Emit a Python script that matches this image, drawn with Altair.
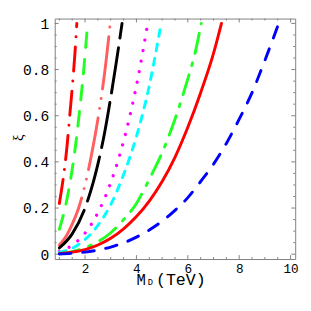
import altair as alt
import pandas as pd

# ---- curve data (M_D in TeV, xi) ----
M_a = [1.0, 1.1, 1.2, 1.3, 1.4, 1.5, 1.6, 1.68]
xi_a = [0.22, 0.29, 0.37, 0.47, 0.595, 0.72, 0.86, 1.0]

M_b = [1.0, 1.2, 1.4, 1.6, 1.8, 1.95, 2.1]
xi_b = [0.108, 0.19, 0.30, 0.445, 0.635, 0.80, 1.0]

M_c = [1.0, 1.25, 1.5, 1.75, 2.0, 2.25, 2.5, 2.75, 2.98]
xi_c = [0.04, 0.075, 0.13, 0.20, 0.30, 0.43, 0.585, 0.775, 1.0]

M_d = [1.0, 1.5, 2.0, 2.5, 2.75, 3.0, 3.2, 3.44]
xi_d = [0.027, 0.088, 0.20, 0.39, 0.52, 0.68, 0.82, 1.0]

M_e = [1.0, 1.5, 2.0, 2.5, 3.0, 3.5, 4.0, 4.44]
xi_e = [0.0115, 0.039, 0.091, 0.18, 0.31, 0.49, 0.73, 1.0]

M_f = [1.0, 1.5, 2.0, 2.5, 3.0, 3.5, 4.0, 4.5, 4.96]
xi_f = [0.008, 0.026, 0.064, 0.125, 0.215, 0.345, 0.51, 0.73, 1.0]

M_g = [1.0, 1.5, 2.0, 2.5, 3.0, 3.5, 4.0, 4.5, 5.0, 5.5, 6.0, 6.3, 6.52]
xi_g = [0.003, 0.011, 0.028, 0.054, 0.093, 0.15, 0.22, 0.325, 0.44, 0.585, 0.76, 0.88, 1.0]

M_h = [1.0, 1.5, 2.0, 2.5, 3.0, 3.5, 4.0, 4.5, 5.0, 5.5, 6.0, 6.5, 7.0, 7.31]
xi_h = [0.0026, 0.009, 0.02, 0.04, 0.069, 0.11, 0.163, 0.23, 0.315, 0.42, 0.55, 0.70, 0.87, 1.0]

M_i = [1.0, 1.5, 2.0, 2.5, 3.0, 3.5, 4.0, 4.5, 5.0, 5.5, 6.0, 6.5, 7.0, 7.5, 8.0, 8.5, 9.0, 9.54]
xi_i = [0.001, 0.004, 0.009, 0.018, 0.031, 0.049, 0.074, 0.105, 0.143, 0.19, 0.245, 0.315, 0.39, 0.48, 0.585, 0.70, 0.84, 1.0]

# ---- ticks ----
x_major = [2, 4, 6, 8, 10]
x_minor = [1, 1.5, 2.5, 3, 3.5, 4.5, 5, 5.5, 6.5, 7, 7.5, 8.5, 9, 9.5]
y_major = [0, 0.2, 0.4, 0.6, 0.8, 1]
y_minor = [0.05, 0.1, 0.15, 0.25, 0.3, 0.35, 0.45, 0.5, 0.55, 0.65, 0.7, 0.75, 0.85, 0.9, 0.95]

x_title_parts = ["M", "D", "(TeV)"]
y_title = "ξ"

# ---- styling ----
W = 247
H = 247
FONT = "Liberation Mono"
GRAY = "#808080"

curves = [
    (M_a, xi_a, "#FF0000", [25, 10.3, 0.01, 10.3], 3),
    (M_b, xi_b, "#22FF22", [15, 12], 3),
    (M_c, xi_c, "#FF5F5F", [54, 10, 0.01, 10, 0.01, 10], 3),
    (M_d, xi_d, "#000000", [47, 10], 3),
    (M_e, xi_e, "#FF00FF", [0.01, 11], 3.4),
    (M_f, xi_f, "#00FFFF", [7, 8], 3),
    (M_g, xi_g, "#22FF22", [21, 10, 3, 10], 3),
    (M_h, xi_h, "#FF0000", None, 3),
    (M_i, xi_i, "#0000FF", [12, 12], 3),
]

xs = alt.Scale(domain=[0.82, 10.18], nice=False, zero=False)
ys = alt.Scale(domain=[-0.021, 1.021], nice=False, zero=False)

x_axis = alt.Axis(values=x_major, ticks=False, tickSize=0, domain=False, grid=False,
                  labelFont=FONT, labelFontSize=13, labelColor="black", labelPadding=4,
                  labelFlush=False, labelOverlap=False, title=None)
y_axis = alt.Axis(values=y_major, format="~g", ticks=False, tickSize=0, domain=False, grid=False,
                  labelFont=FONT, labelFontSize=15, labelColor="black", labelPadding=6,
                  labelFlush=False, labelOverlap=False,
                  title=y_title, titleFont="Liberation Serif", titleFontSize=15,
                  titleFontWeight="normal", titleColor="black", titleAngle=270,
                  titleX=-38, titleY=122, titleBaseline="middle", titleAlign="center")

X = alt.X("M:Q", scale=xs, axis=x_axis)
Y = alt.Y("xi:Q", scale=ys, axis=y_axis)

layers = []

# frame ticks (inward, on all four sides)
for vals, ln in [(x_major, 4), (x_minor, 2)]:
    d = pd.DataFrame({"M": vals})
    base = alt.Chart(d).mark_rule(color=GRAY, strokeWidth=1)
    layers.append(base.encode(x=X, y=alt.value(H), y2=alt.value(H - ln)))
    layers.append(base.encode(x=X, y=alt.value(0), y2=alt.value(ln)))
for vals, ln in [(y_major, 4), (y_minor, 2)]:
    d = pd.DataFrame({"xi": vals})
    base = alt.Chart(d).mark_rule(color=GRAY, strokeWidth=1)
    layers.append(base.encode(y=Y, x=alt.value(0), x2=alt.value(ln)))
    layers.append(base.encode(y=Y, x=alt.value(W), x2=alt.value(W - ln)))

# curves
for M, xi, color, dash, sw in curves:
    d = pd.DataFrame({"M": M, "xi": xi})
    kw = dict(color=color, strokeWidth=sw, strokeCap="round", interpolate="monotone", clip=True)
    if dash is not None:
        kw["strokeDash"] = dash
    layers.append(alt.Chart(d).mark_line(**kw).encode(x=X, y=Y))

# x-axis title with subscript
tdf = pd.DataFrame({"t": [0]})
layers.append(alt.Chart(tdf).mark_text(text=x_title_parts[0], font=FONT, fontSize=16, align="left",
                                       baseline="alphabetic", color="black")
              .encode(x=alt.value(84), y=alt.value(273.5)))
layers.append(alt.Chart(tdf).mark_text(text=x_title_parts[1], font=FONT, fontSize=9, align="left",
                                       baseline="alphabetic", color="black")
              .encode(x=alt.value(95.5), y=alt.value(274)))
layers.append(alt.Chart(tdf).mark_text(text=x_title_parts[2], font=FONT, fontSize=17, align="left",
                                       baseline="alphabetic", color="black")
              .encode(x=alt.value(104), y=alt.value(273.5)))

chart = alt.layer(*layers).properties(
    width=W, height=H,
    autosize=alt.AutoSizeParams(type="none"),
    padding={"left": 48, "top": 7, "right": 8, "bottom": 30},
    background="white",
).configure_view(stroke=GRAY, strokeWidth=1)

chart.save("out.html", embed_options={"renderer": "svg", "actions": False})
